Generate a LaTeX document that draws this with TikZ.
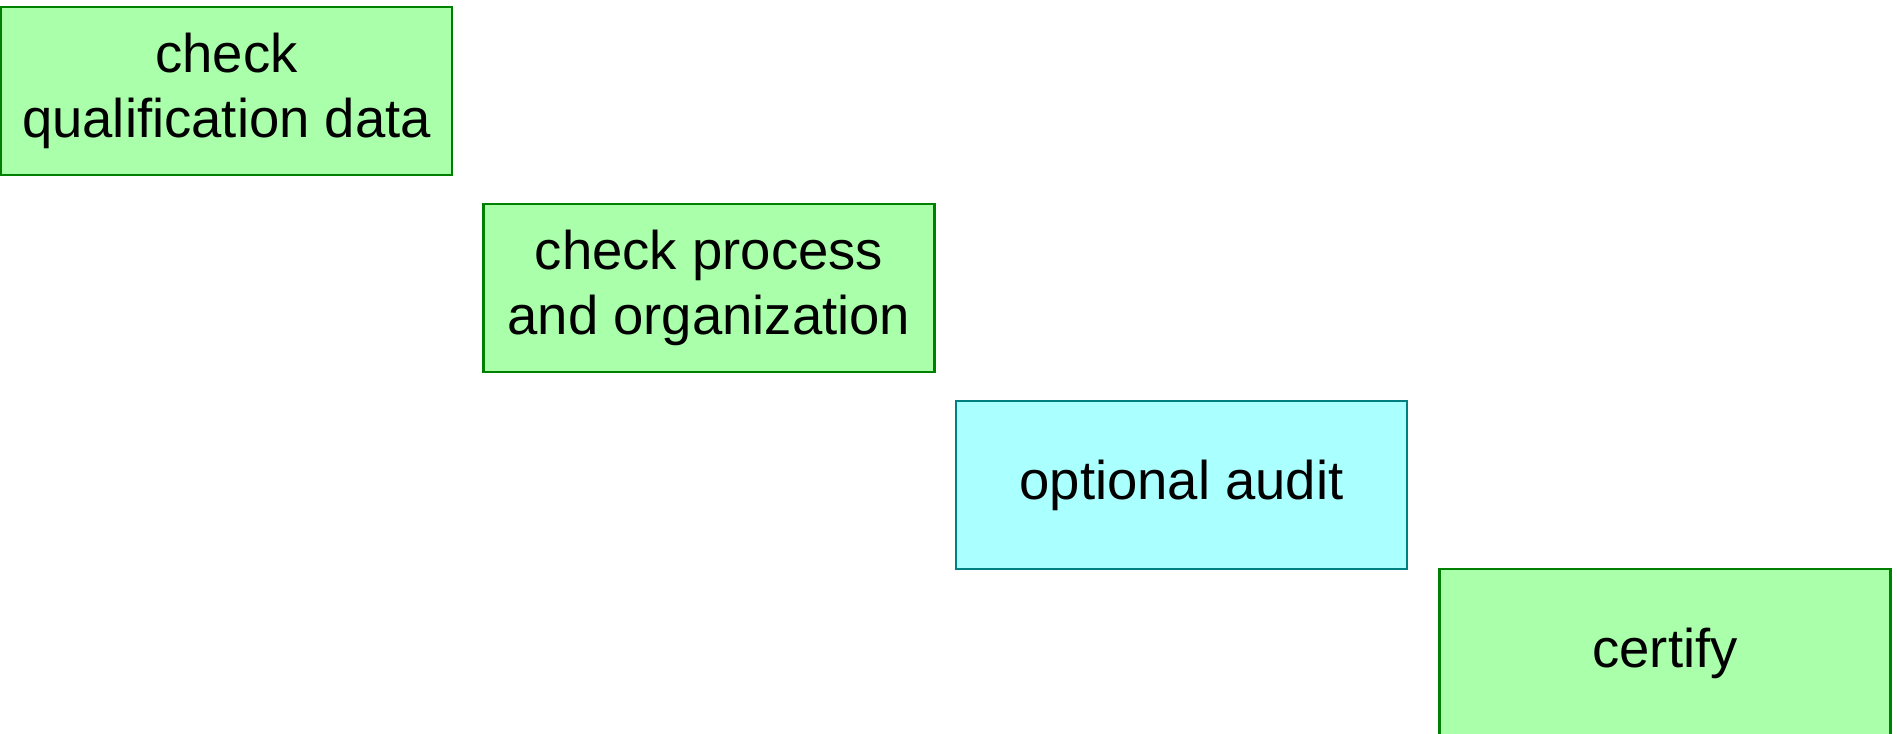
\documentclass[tikz,border=0pt]{standalone}
\usepackage{fontspec}
\setmainfont{Liberation Sans}
\definecolor{stepgreen}{HTML}{AAFFAA}
\definecolor{stepgreenline}{HTML}{008000}
\definecolor{stepcyan}{HTML}{AAFFFF}
\definecolor{stepcyanline}{HTML}{008080}
\tikzset{
  stepbox/.style={draw=stepgreenline, fill=stepgreen, line width=1.3pt,
    minimum width=9.02cm, minimum height=3.36cm, inner sep=0pt,
    align=center, font=\fontsize{31}{37}\selectfont},
  optbox/.style={stepbox, draw=stepcyanline, fill=stepcyan}
}
\begin{document}
\begin{tikzpicture}
  % page frame
  \useasboundingbox (0,0) rectangle (37.94,-14.66);
  \clip (0,0) rectangle (37.94,-14.66);

  % the staircase of steps
  \node[stepbox] (qual)  at (4.53,-1.82)  {check\\qualification data};
  \node[stepbox] (proc)  at (14.18,-5.76) {check process\\and organization};
  \node[optbox]  (audit) at (23.63,-9.70) {optional audit};
  \node[stepbox] (cert)  at (33.30,-13.06) {certify};
\end{tikzpicture}
\end{document}
